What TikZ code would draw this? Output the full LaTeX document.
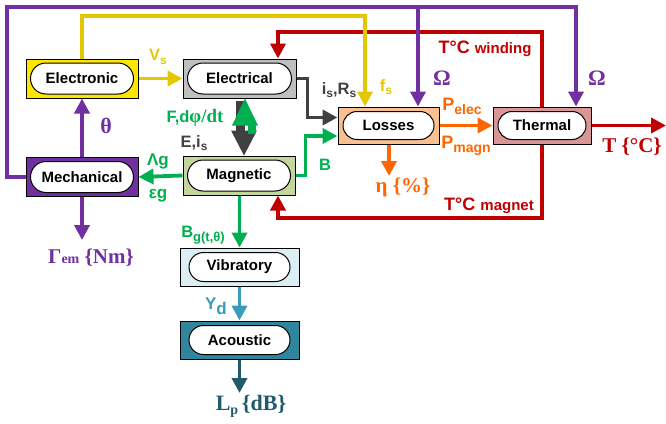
\documentclass[tikz,border=0pt]{standalone}
\usepackage{fontspec}
\setmainfont{Liberation Sans}
\newfontfamily\tms{Liberation Serif}
\usetikzlibrary{arrows.meta,shapes.misc,calc}
\definecolor{cyelfill}{HTML}{FFE600}
\definecolor{cyel}{HTML}{E3C800}
\definecolor{cpurp}{HTML}{7030A0}
\definecolor{cgrayfill}{HTML}{BFBFBF}
\definecolor{cdgray}{HTML}{404040}
\definecolor{cmagfill}{HTML}{C3D69B}
\definecolor{cgreen}{HTML}{00B050}
\definecolor{clossfill}{HTML}{FAC090}
\definecolor{corange}{HTML}{FF6600}
\definecolor{cthermfill}{HTML}{D99694}
\definecolor{cred}{HTML}{C00000}
\definecolor{cvibfill}{HTML}{DBEEF4}
\definecolor{cblue}{HTML}{3A9CBA}
\definecolor{cacoufill}{HTML}{31859C}
\definecolor{cteal}{HTML}{215A6B}
\newcommand\lsub[2]{{\fontsize{#1}{#1}\selectfont\raisebox{-0.3em}{#2}}}
\newcommand\fs[1]{\fontsize{#1}{#1}\selectfont}
\begin{document}
\begin{tikzpicture}[x=1pt,y=-1pt,font=\bfseries,
  box/.style={draw=black,line width=1pt,inner sep=0pt},
  pill/.style={draw=black,line width=1pt,fill=white,rounded rectangle,inner sep=0pt,font=\fs{15}\bfseries},
  con/.style={line width=3.8pt,-{Triangle[length=15pt,width=15pt]}},
  lbl/.style={inner sep=0pt,font=\fs{16.5}\bfseries},
  slbl/.style={inner sep=0pt,font=\fs{22}\bfseries\tms}]
\useasboundingbox (0,0) rectangle (666,423);

% blocks
\node[box,fill=cyelfill,minimum width=112pt,minimum height=39pt] (elx) at (82,78.5) {};
\node[pill,minimum width=103pt,minimum height=31pt] (elxt) at (elx) {Electronic};
\node[box,fill=cgrayfill,minimum width=113pt,minimum height=39pt] (elc) at (239.5,78.5) {};
\node[pill,minimum width=104pt,minimum height=31pt] (elct) at (elc) {Electrical};
\node[box,fill=cpurp,minimum width=112pt,minimum height=39pt] (mech) at (82,177) {};
\node[pill,minimum width=103pt,minimum height=31pt] (mecht) at (mech) {Mechanical};
\node[box,fill=cmagfill,minimum width=112pt,minimum height=39pt] (magn) at (239,175.5) {};
\node[pill,minimum width=103pt,minimum height=31pt] (magnt) at (magn) {Magnetic};
\node[box,fill=clossfill,minimum width=101pt,minimum height=37pt] (loss) at (388.5,125.5) {};
\node[pill,minimum width=91pt,minimum height=28pt] (losst) at (loss) {Losses};
\node[box,fill=cthermfill,minimum width=98pt,minimum height=37pt] (therm) at (542,125.5) {};
\node[pill,minimum width=88pt,minimum height=28pt] (thermt) at (therm) {Thermal};
\node[box,fill=cvibfill,minimum width=119pt,minimum height=38pt] (vib) at (239.5,267) {};
\node[pill,minimum width=101pt,minimum height=29pt] (vibt) at (vib) {Vibratory};
\node[box,fill=cacoufill,minimum width=119pt,minimum height=38pt] (acou) at (239.5,340) {};
\node[pill,minimum width=101pt,minimum height=29pt] (acout) at (acou) {Acoustic};

% coordinates for free ends and bends
\coordinate (pc) at (7,7);
\coordinate (p1) at (418,7);
\coordinate (p2) at (576,7);
\coordinate (yc) at (365,16);
\coordinate (rt) at (278,32);
\coordinate (rb) at (278,218);
\coordinate (gam) at (82,240);
\coordinate (eta) at (389,176);
\coordinate (lp) at (239.5,393);
\coordinate (tout) at (666,125.5);

% red thermal feedback (under the others)
\draw[con,cred] (therm.north) |- (rt) -- (rt |- elc.north);
\draw[con,cred] (therm.south) |- (rb) -- (rb |- magn.south);
\draw[con,cred] (therm.east) -- (tout);

% yellow
\draw[con,cyel] (elx.east) -- (elc.west);
\draw[con,cyel] (elx.north) |- (yc) -- (yc |- loss.north);

% purple
\draw[con,cpurp] (mech.west) -| (pc) -- (p2) -- (p2 |- therm.north);
\draw[con,cpurp] (p1) -- (p1 |- loss.north);
\draw[con,cpurp] (mech.north) -- (elx.south);
\draw[con,cpurp] (mech.south) -- (gam);

% gray and green into losses
\draw[con,cdgray] (elc.east) -- ++(11,0) |- ($(loss.west)+(0,-8)$);
\draw[con,cgreen] (magn.east) -- ++(10,0) |- ($(loss.west)+(0,10.5)$);
\draw[con,cgreen] (magn.west) -- (mech.east);
\draw[con,cgreen] (magn.south -| vib.north) -- (vib.north);

% double arrow electrical <-> magnetic
\fill[cdgray] ($(elc.south)+(-3.5,2)$) rectangle ($(elc.south)+(5.5,35)$);
\fill[cdgray] ($(magn.north)+(-8,-25)$) -- ($(magn.north)+(18,-25)$) -- ($(magn.north)+(5,0)$) -- cycle;
\fill[cgreen] ($(elc.south)+(8.5,26)$) rectangle ($(elc.south)+(16,35)$);
\fill[cgreen] ($(elc.south)+(-7.5,27)$) -- ($(elc.south)+(18.5,27)$) -- ($(elc.south)+(5.5,0)$) -- cycle;

% lower chain
\draw[con,cblue] (vib.south) -- (acou.north);
\draw[con,cteal] (acou.south) -- (lp);

% orange
\draw[con,corange] (loss.east) -- (therm.west);
\draw[con,corange] (loss.south -| eta) -- (eta);

% labels
\node[lbl,text=cyel] (lVs) at (158,57) {V\lsub{12}{s}};
\node[lbl,text=cyel] (lfs) at (386,87) {f\lsub{12}{s}};
\node[lbl,text=cdgray] (lis) at (339,90) {i\lsub{12}{s},R\lsub{12}{s}};
\node[lbl,text=cgreen] (lF) at (195,118) {F,d{\tms\fs{19}φ/dt}};
\node[lbl,text=cdgray] (lE) at (194,143) {E,i\lsub{12}{s}};
\node[lbl,text=cgreen,font=\fs{17}\bfseries] (lL) at (158,161) {Λg};
\node[lbl,text=cgreen,font=\fs{17}\bfseries] (lep) at (158,196) {εg};
\node[lbl,text=cgreen] (lB) at (325,165) {B};
\node[lbl,text=cgreen] (lBg) at (203,235) {B\lsub{13}{g(t,θ)}};
\node[lbl,text=cblue,font=\fs{17}\bfseries] (lYd) at (216,306) {Y\lsub{17}{d}};
\node[slbl,text=cpurp] (lth) at (106,126) {θ};
\node[slbl,text=cpurp] (lO1) at (442,78) {Ω};
\node[slbl,text=cpurp] (lO2) at (597,78) {Ω};
\node[slbl,text=cpurp,font=\fs{21}\bfseries\tms] (lG) at (91,258) {Γ{\fs{14}em} \{Nm\}};
\node[slbl,text=corange,font=\fs{21}\bfseries\tms] (leta) at (403,187) {η \{\%\}};
\node[slbl,text=cred,font=\fs{21}\bfseries\tms] (lT) at (632,147) {T \{°C\}};
\node[slbl,text=cteal,font=\fs{22}\bfseries\tms] (lLp) at (251,406) {L\lsub{14}{p}\,\{dB\}};
\node[lbl,text=corange,font=\fs{18}\bfseries] (lPe) at (462,106) {P\lsub{14}{elec}};
\node[lbl,text=corange,font=\fs{18}\bfseries] (lPm) at (466,146) {P\lsub{14}{magn}};
\node[lbl,text=cred,font=\fs{18}\bfseries] (lTw) at (485,49) {T°C {\fs{15}winding}};
\node[lbl,text=cred,font=\fs{18}\bfseries] (lTm) at (489,206) {T°C {\fs{15}magnet}};
\end{tikzpicture}
\end{document}
